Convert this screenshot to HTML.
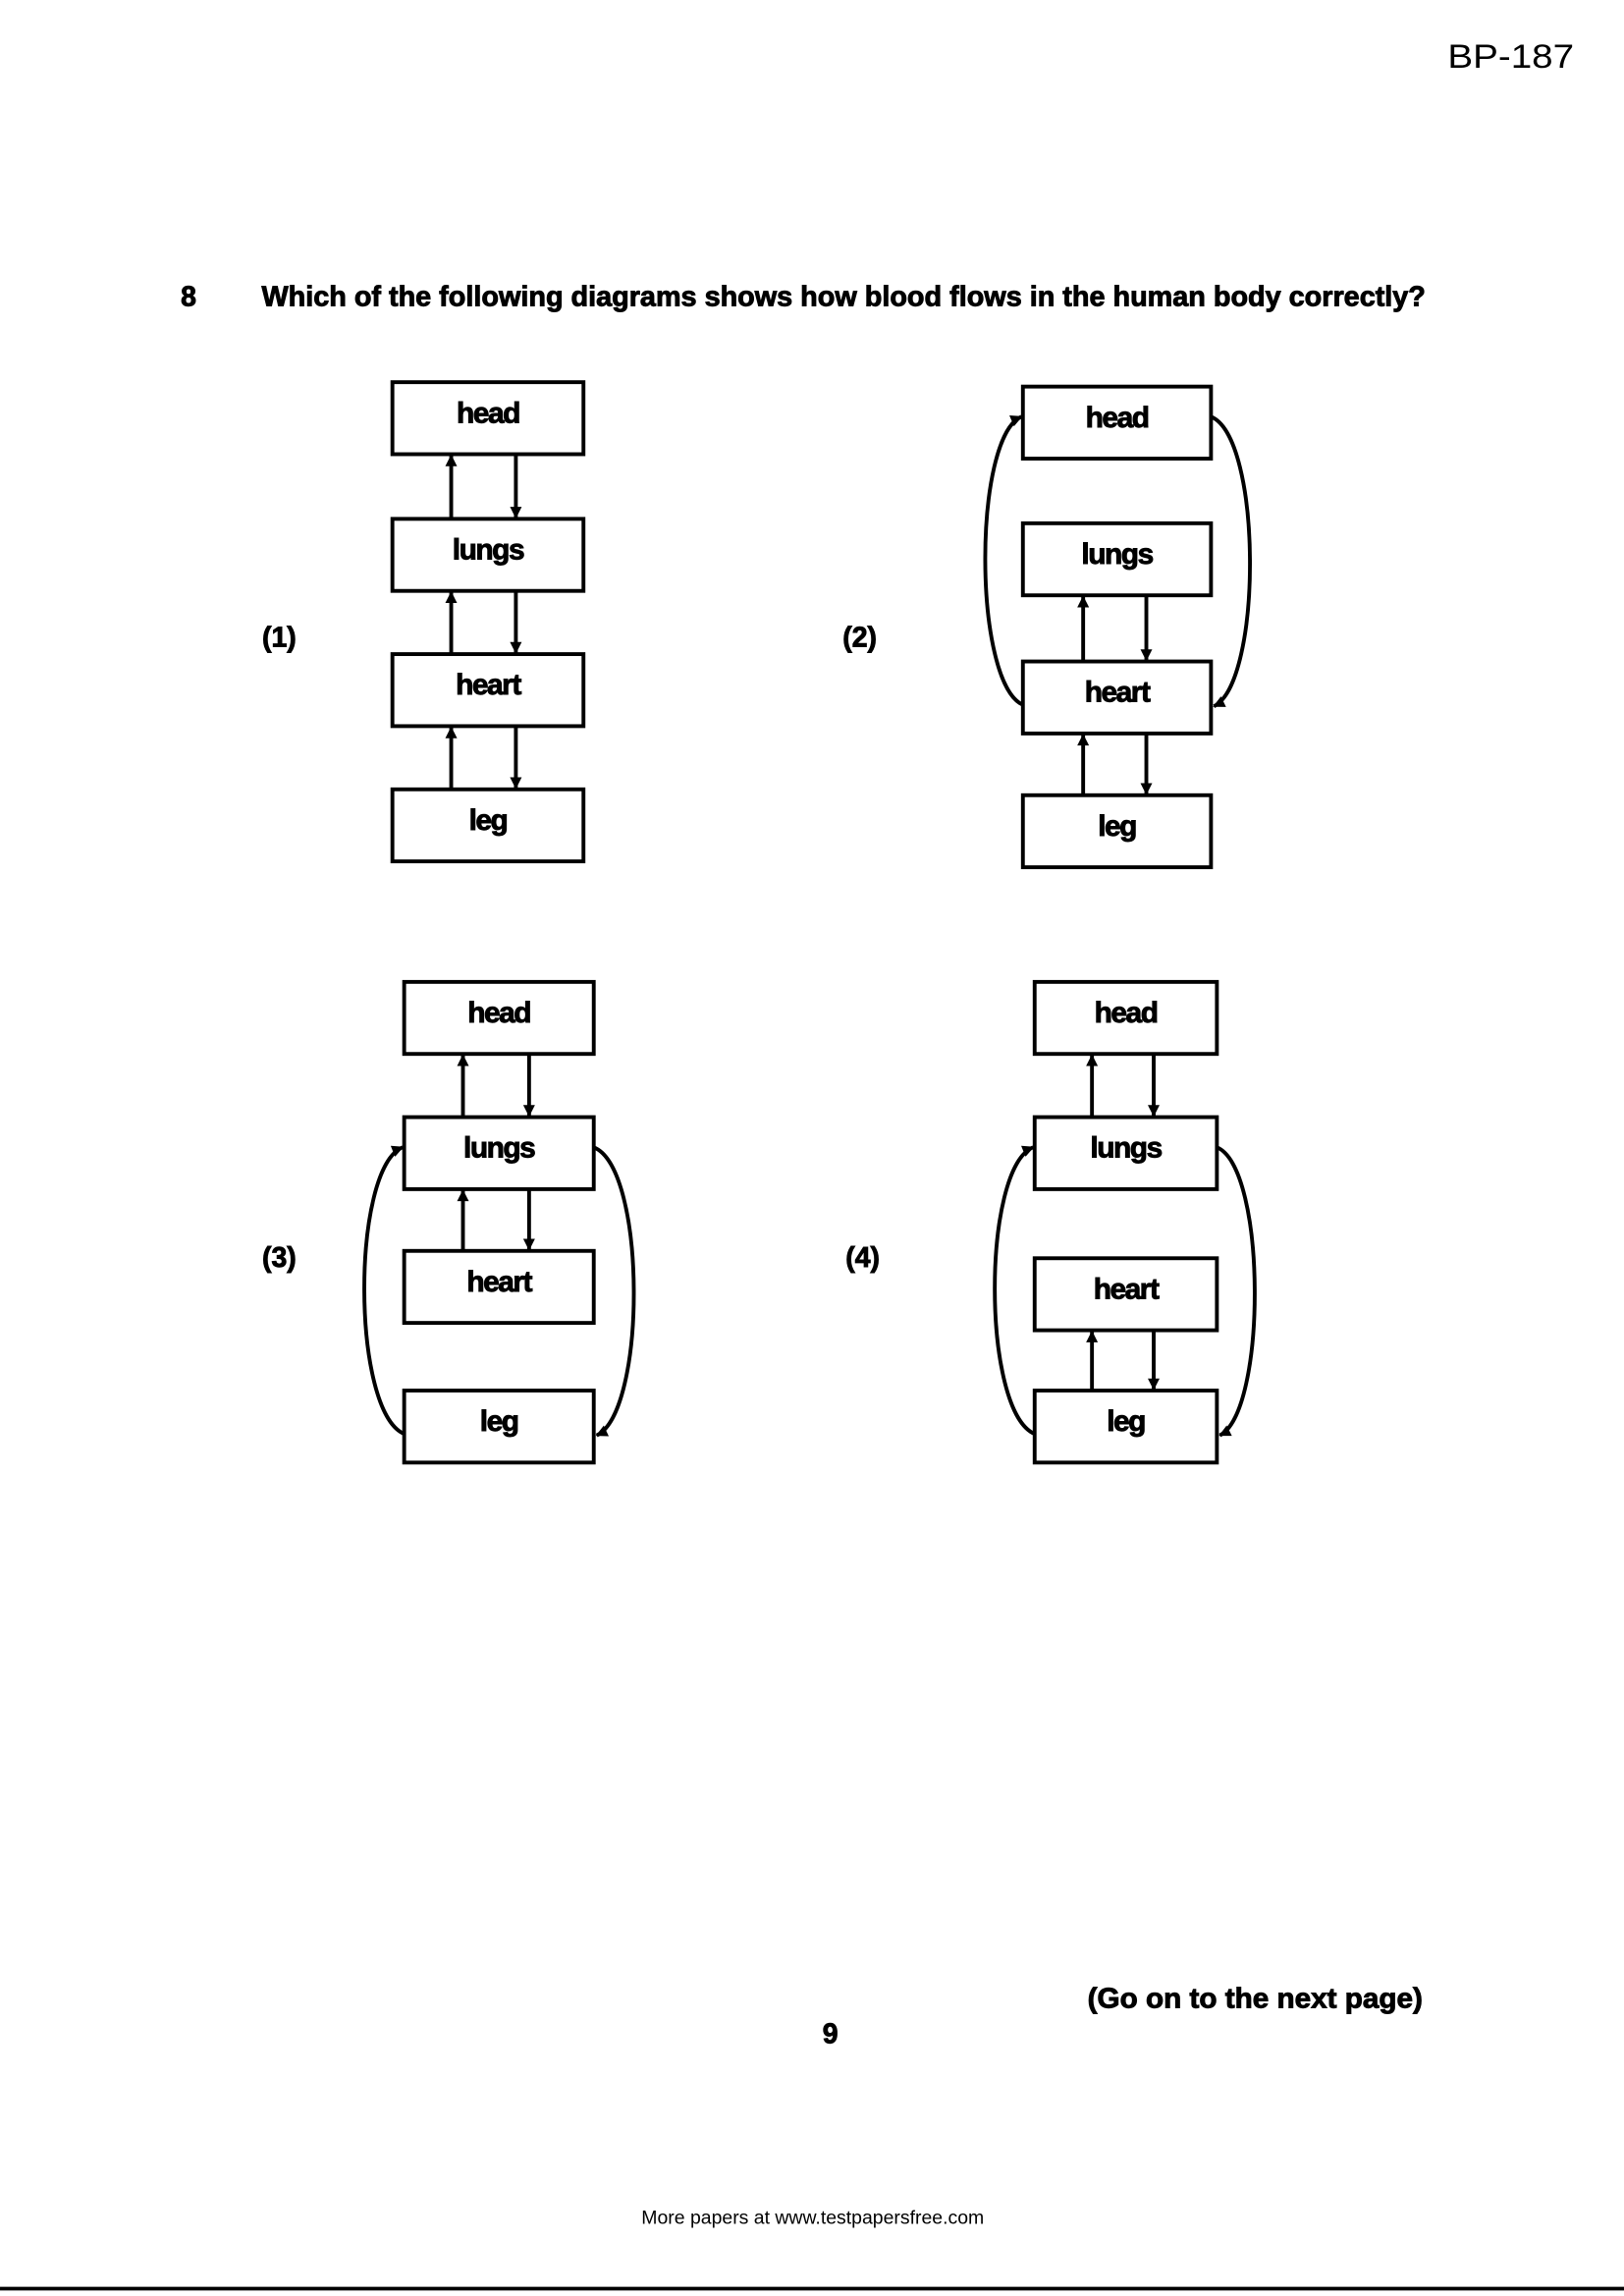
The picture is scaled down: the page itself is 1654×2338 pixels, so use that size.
<!DOCTYPE html>
<html><head><meta charset="utf-8"><style>
html,body{margin:0;padding:0;background:#fff;}
svg{display:block;}
text{font-family:"Liberation Sans",Arial,sans-serif;fill:#000;}
.b{font-weight:bold;}
</style></head><body>
<svg id="page" width="1654" height="2338" viewBox="0 0 1105 1562" xmlns="http://www.w3.org/2000/svg">
<defs>
<marker id="ah" viewBox="0 0 10 10" refX="9" refY="5" markerWidth="10" markerHeight="8" orient="auto-start-reverse" markerUnits="userSpaceOnUse"><path d="M0,0 L10,5 L0,10 z" fill="#000"/></marker>
</defs>
<rect width="1105" height="1562" fill="#fff"/>
<text x="985" y="46" font-size="23" textLength="86" lengthAdjust="spacingAndGlyphs">BP-187</text>
<text class="b" x="123" y="208" font-size="19" stroke="#000" stroke-width="0.6">8</text>
<text class="b" x="178" y="208" font-size="19" textLength="792" lengthAdjust="spacingAndGlyphs" stroke="#000" stroke-width="0.6">Which of the following diagrams shows how blood flows in the human body correctly?</text>
<g id="diagrams" stroke="#000" fill="none" stroke-width="2.6"></g>
<text class="b" x="565" y="1390" font-size="19" text-anchor="middle" stroke="#000" stroke-width="0.6">9</text>
<text class="b" x="740" y="1366" font-size="19" textLength="228" lengthAdjust="spacingAndGlyphs" stroke="#000" stroke-width="0.6">(Go on to the next page)</text>
<text x="553" y="1513" font-size="13" text-anchor="middle">More papers at www.testpapersfree.com</text>
<line x1="0" y1="1557" x2="1105" y2="1557" stroke="#000" stroke-width="2.5"/>
</svg>
<script>
const NS="http://www.w3.org/2000/svg";
const labels=["head","lungs","heart","leg"];
const options=[
 {n:"(1)",lx:190,ly:440,x0:267,x1:397,ys:[260,353,445,537],h:49,up:307,dn:351,arrows:[0,1,2],curves:null},
 {n:"(2)",lx:585,ly:440,x0:696,x1:824,ys:[263,356,450,541],h:49,up:737,dn:780,arrows:[1,2],curves:{from:2,to:0,lb:666,rb:855}},
 {n:"(3)",lx:190,ly:862,x0:275,x1:404,ys:[668,760,851,946],h:49,up:315,dn:360,arrows:[0,1],curves:{from:3,to:1,lb:243,rb:436}},
 {n:"(4)",lx:587,ly:862,x0:704,x1:828,ys:[668,760,856,946],h:49,up:743,dn:785,arrows:[0,2],curves:{from:3,to:1,lb:672,rb:858}}
];
const g=document.getElementById('diagrams');
function mk(t,a,p){const e=document.createElementNS(NS,t);for(const k in a)e.setAttribute(k,a[k]);(p||g).appendChild(e);return e;}
options.forEach((o,i)=>{
 const grp=mk('g',{});
 
 
 const lab=mk('text',{x:o.lx,y:o.ly,'font-size':19,'text-anchor':'middle','font-weight':'bold',stroke:'#000','stroke-width':0.6,fill:'#000'},grp);
 lab.textContent=o.n;
 
 
 labels.forEach((l,j)=>{
  const r=mk('rect',{x:o.x0,y:o.ys[j],width:o.x1-o.x0,height:o.h},grp);
  
  
  const t=mk('text',{x:(o.x0+o.x1)/2,y:o.ys[j]+o.h/2+3,'font-size':20,'text-anchor':'middle','font-weight':'bold',stroke:'#000','stroke-width':0.6,fill:'#000','letter-spacing':'-1'},grp);
  t.textContent=l;
  
  
 });
 o.arrows.forEach(j=>{
  const top=o.ys[j]+o.h, bot=o.ys[j+1];
  const a=mk('line',{x1:o.up,y1:bot,x2:o.up,y2:top+1,'marker-end':'url(#ah)'},grp);
  
  
  const b=mk('line',{x1:o.dn,y1:top,x2:o.dn,y2:bot-1,'marker-end':'url(#ah)'},grp);
  
  
 });
 if(o.curves){
  const c=o.curves;
  const yf=o.ys[c.from]+o.h/2, yt=o.ys[c.to]+o.h/2;
  const p1=mk('path',{d:`M${o.x0},${yf+5} C${c.lb-4},${yf-10} ${c.lb-4},${yt+10} ${o.x0-1},${yt-4}`,'marker-end':'url(#ah)'},grp);
  
  
  const p2=mk('path',{d:`M${o.x1},${yt-4} C${c.rb+4},${yt+10} ${c.rb+4},${yf-10} ${o.x1+2},${yf+6}`,'marker-end':'url(#ah)'},grp);
  
  
 }
});
</script>
</body></html>
